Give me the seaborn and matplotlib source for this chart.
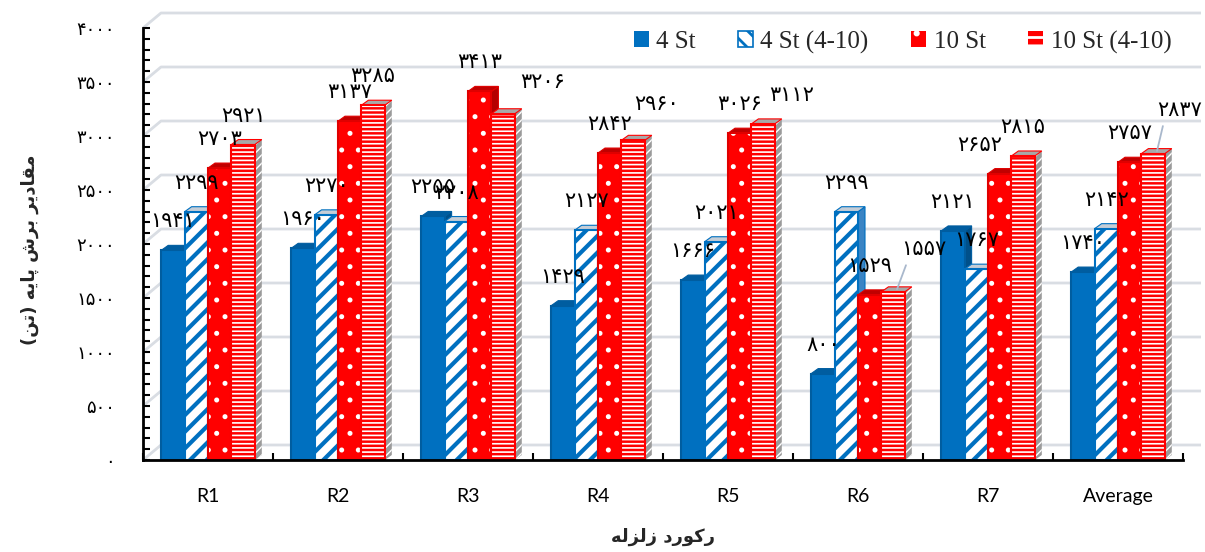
import numpy as np
import pandas as pd
import matplotlib
matplotlib.use("Agg")
import matplotlib.pyplot as plt
import seaborn as sns
from matplotlib.patches import Rectangle, Polygon, Patch
from matplotlib.ticker import FixedLocator, MultipleLocator

# ---------------- data ----------------
categories = ["R1", "R2", "R3", "R4", "R5", "R6", "R7", "Average"]
series = ["4 St", "4 St (4-10)", "10 St", "10 St (4-10)"]
st4 = [1941, 1960, 2255, 1429, 1666, 800, 2121, 1740]
st4_410 = [2299, 2270, 2208, 2127, 2021, 2299, 1767, 2142]
st10 = [2703, 3137, 3413, 2842, 3026, 1529, 2652, 2757]
st10_410 = [2921, 3285, 3206, 2960, 3112, 1557, 2815, 2837]
y_ticks = [0, 500, 1000, 1500, 2000, 2500, 3000, 3500, 4000]

# Persian titles written in presentation forms (visual order)
ylabel_txt = "(\uFEE6\uFE97) \uFEEA\uFEF3\uFE8E\uFB58 \uFEB5\uFEAE\uFE91 \uFEAE\uFEF3\uFEA9\uFE8E\uFED8\uFEE3"
xlabel_txt = "\uFEEA\uFEDF\uFEB0\uFEDF\uFEAF \uFEA9\uFEAD\uFEEE\uFEDB\uFEAD"

PERSIAN = str.maketrans("0123456789", "\u06F0\u06F1\u06F2\u06F3\u06F4\u06F5\u06F6\u06F7\u06F8\u06F9")
def fa(v):
    return str(int(v)).translate(PERSIAN)

df = pd.DataFrame({
    "cat": categories * 4,
    "series": sum([[s] * len(categories) for s in series], []),
    "val": st4 + st4_410 + st10 + st10_410,
})

# ---------------- style ----------------
sns.set_theme(style="white")
plt.rcParams["font.family"] = ["DejaVu Sans"]
plt.rcParams["hatch.linewidth"] = 2.0

BLUE = "#0070C0"
RED = "#FF0000"

fig = plt.figure(figsize=(12.05, 5.52), dpi=100)
ax = fig.add_axes([143 / 1205, 92 / 552, 1040 / 1205, 432 / 552])

palette = {series[0]: BLUE, series[1]: "white", series[2]: RED, series[3]: RED}
sns.barplot(data=df, x="cat", y="val", hue="series", order=categories,
            hue_order=series, palette=palette, width=0.72, errorbar=None,
            saturation=1, legend=False, ax=ax, linewidth=0)

ax.set_xlim(-0.5, len(categories) - 0.5)
ax.set_ylim(0, 4000)

# pixel -> data conversions
pp = ax.transData.transform([(1, 1000)]) - ax.transData.transform([(0, 0)])
ppx, ppy = pp[0][0], pp[0][1] / 1000.0
bdx, bdy = 7 / ppx, 5 / ppy      # bar depth
gdx, gdy = 18 / ppx, 15 / ppy    # wall depth


def set_hlw(patch, lw):
    if hasattr(patch, "set_hatch_linewidth"):
        patch.set_hatch_linewidth(lw)
    else:
        patch._hatch_linewidth = lw


# gridlines on the back wall
for v in y_ticks:
    ax.plot([-0.5, -0.5 + gdx, len(categories) - 0.5 + gdx], [v, v + gdy, v + gdy],
            color="#D9DDE3", lw=2, zorder=0.5, clip_on=False, solid_capstyle="butt")

hatch_spec = {
    0: dict(hatch=None, hc=BLUE, fc=BLUE, hlw=0),
    1: dict(hatch="//", hc=BLUE, fc="white", hlw=3.0),
    2: dict(hatch=".", hc="white", fc=RED, hlw=1.2),
    3: dict(hatch="----", hc="white", fc=RED, hlw=1.2),
}
top_col = {0: "#005DA0", 1: "#C5CDD6", 2: "#C00000", 3: "#A8A8A8"}
side_col = {0: "#00508A", 1: "#3A84C4", 2: "#B40000", 3: "#9A9A9A"}
edge_col = {0: "#005DA0", 1: BLUE, 2: "#E00000", 3: RED}
# label nudges (pixels) for crowded labels, as placed in the reference
nudge = {(2, 3): (40, 32), (3, 3): (23, 36), (4, 3): (29, 29), (6, 2): (-20, 29),
         (5, 3): (27, 40), (7, 3): (23, 41)}
leaders = {(5, 3), (7, 3)}

for s, cont in enumerate(ax.containers):
    spec = hatch_spec[s]
    for i, p in enumerate(cont.patches):
        x0, w, h = p.get_x(), p.get_width(), p.get_height()
        x1 = x0 + w
        p.set_facecolor(spec["fc"])
        p.set_zorder(3 + 2 * s)
        if spec["hatch"]:
            p.set_hatch(spec["hatch"])
            p.set_edgecolor(spec["hc"])
            p.set_linewidth(0)
            set_hlw(p, spec["hlw"])
        # outline
        ax.add_patch(Rectangle((x0, 0), w, h, fc="none", ec=edge_col[s],
                               lw=1.5, zorder=3.1 + 2 * s))
        # 3D top and side
        top = Polygon([(x0, h), (x1, h), (x1 + bdx, h + bdy), (x0 + bdx, h + bdy)],
                      closed=True, fc=top_col[s], ec=edge_col[s], lw=0.8, zorder=2 + 2 * s)
        side = Polygon([(x1, 0), (x1, h), (x1 + bdx, h + bdy), (x1 + bdx, bdy)],
                       closed=True, fc=side_col[s], ec=edge_col[s], lw=0.8, zorder=2 + 2 * s)
        if s == 3:
            side.set_hatch("////")
            side.set_edgecolor("white")
            side.set_linewidth(0)
            set_hlw(side, 1.0)
        ax.add_patch(side)
        ax.add_patch(top)

        # data labels
        dx, dy = nudge.get((i, s), (0, 29))
        if (i, s) in leaders:
            ax.annotate(fa(h), xy=(x0 + w / 2 + 0.03, h + 0.5 * bdy), xytext=(dx, dy),
                        textcoords="offset pixels", ha="center", va="center",
                        fontsize=15, color="black", zorder=20,
                        arrowprops=dict(arrowstyle="-", color="#A9B8CC", lw=1.3,
                                        relpos=(0.15, 0.0), shrinkA=2, shrinkB=0))
        else:
            ax.annotate(fa(h), xy=(x0 + w / 2, h), xytext=(dx, dy),
                        textcoords="offset pixels", ha="center", va="center",
                        fontsize=15, color="black", zorder=20)

# axes, ticks
for sp in ["top", "right"]:
    ax.spines[sp].set_visible(False)
for sp in ["left", "bottom"]:
    ax.spines[sp].set_color("black")
    ax.spines[sp].set_linewidth(2)
    ax.spines[sp].set_zorder(30)

ax.yaxis.set_major_locator(FixedLocator(y_ticks))
ax.yaxis.set_minor_locator(MultipleLocator(100))
ax.set_yticklabels([fa(v) for v in y_ticks], fontsize=13)
ax.set_xticks(range(len(categories)))
ax.set_xticklabels(categories, fontsize=14, family="Lato")
ax.xaxis.set_minor_locator(FixedLocator(np.arange(-0.5, len(categories), 1.0)))
ax.tick_params(axis="y", which="both", direction="in", length=5, width=1.5, pad=20,
               left=True, colors="black")
ax.tick_params(axis="x", which="both", direction="in", length=5, width=1.5, pad=20,
               bottom=True, colors="black")
ax.set_xlabel("")
ax.set_ylabel("")

fig.text(663 / 1205, 1 - 537 / 552, xlabel_txt, ha="center", va="center",
         fontsize=13, fontweight="bold")
fig.text(30 / 1205, 1 - 250 / 552, ylabel_txt, ha="center", va="center",
         fontsize=13, fontweight="bold", rotation=90)

# legend
handles = [
    Patch(fc=BLUE, ec=BLUE, lw=0),
    Patch(fc="white", ec=BLUE, hatch="\\\\", lw=1.2),
    Patch(fc=RED, ec="white", hatch=".", lw=0),
    Patch(fc=RED, ec="white", hatch="--", lw=0),
]
leg = fig.legend(handles, series, loc="center right",
                 bbox_to_anchor=(1194 / 1205, 1 - 42 / 552), ncol=4, frameon=False,
                 prop={"family": "Liberation Serif", "size": 18},
                 handlelength=0.6, handleheight=0.6, handletextpad=0.3,
                 columnspacing=1.7)

fig.savefig("out.png", dpi=100)
